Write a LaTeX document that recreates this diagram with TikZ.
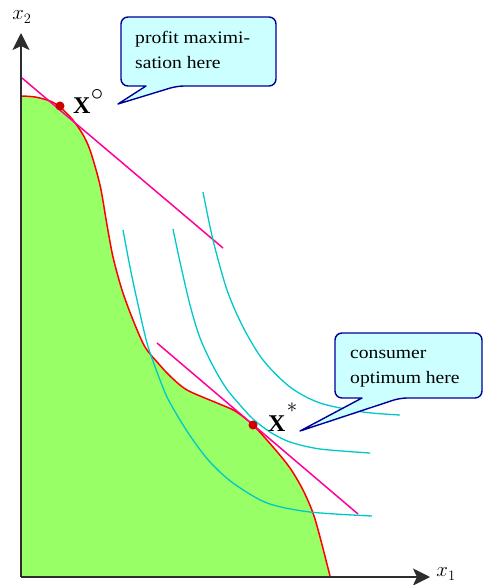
\documentclass[tikz,border=0pt]{standalone}
\usepackage{fontspec}
\setmainfont{Liberation Serif}
\newfontfamily\callfont[FakeStretch=1.12]{Liberation Serif}
\usetikzlibrary{arrows.meta}
\definecolor{feasgreen}{RGB}{153,255,102}
\definecolor{frontred}{RGB}{255,0,0}
\definecolor{tanpink}{RGB}{255,0,153}
\definecolor{indcyan}{RGB}{0,200,200}
\definecolor{callfill}{RGB}{204,255,255}
\definecolor{callline}{RGB}{0,0,153}
\definecolor{dotred}{RGB}{204,0,0}
\definecolor{axisgray}{RGB}{45,45,45}
\begin{document}
\begin{tikzpicture}[x=1pt,y=-1pt,
  frontier/.style={draw=frontred,line width=1.5pt},
  tangent/.style={draw=tanpink,line width=1.5pt},
  indiff/.style={draw=indcyan,line width=1.3pt},
  axisline/.style={draw=axisgray,line width=2pt,-{Stealth[length=17pt,width=17pt,inset=4pt]}},
  callout/.style={draw=callline,fill=callfill,line width=1.4pt,line join=round},
  calltext/.style={inner sep=0pt,align=left,font=\callfont\fontsize{17.5}{25}\selectfont},
  dotmark/.style={circle,fill=dotred,inner sep=0pt,minimum size=9pt},
  biglabel/.style={inner sep=0pt,font=\fontsize{24}{24}\selectfont\bfseries},
  axislabel/.style={inner sep=0pt,font=\fontsize{22}{22}\selectfont}
]
\useasboundingbox (0,0) rectangle (484,585);

% feasible set
\fill[feasgreen] (21,577) -- plot[smooth] coordinates {(21,96) (35,97) (50,101) (60,107) (72,119) (82,133) (90,150) (100,185) (107,225) (113,257) (122,290) (133,320) (145,347) (158,363) (170,376) (187,390) (217,403) (235,411) (253,425) (273,447) (290,468) (303,490) (313,513) (320,537) (330,576)} -- (330,577) -- cycle;

% frontier
\draw[frontier] plot[smooth] coordinates {(21,96) (35,97) (50,101) (60,107) (72,119) (82,133) (90,150) (100,185) (107,225) (113,257) (122,290) (133,320) (145,347) (158,363) (170,376) (187,390) (217,403) (235,411) (253,425) (273,447) (290,468) (303,490) (313,513) (320,537) (330,576)};

% tangent lines
\coordinate (t1a) at (22,78);
\coordinate (t1b) at (223,248);
\coordinate (t2a) at (157,343);
\coordinate (t2b) at (358,514);
\draw[tangent] (t1a) -- (t1b);
\draw[tangent] (t2a) -- (t2b);

% indifference curves
\draw[indiff] plot[smooth] coordinates {(123,230) (130,267) (137,300) (147,343) (157,372) (167,397) (180,420) (193,440) (210,462) (233,483) (267,503) (310,512) (372,516)};
\draw[indiff] plot[smooth] coordinates {(173,229) (180,262) (190,305) (200,338) (213,366) (226,388) (240,405) (253,419) (270,432) (290,442) (320,449) (370,453)};
\draw[indiff] plot[smooth] coordinates {(203,192) (213,240) (227,290) (243,327) (263,360) (290,387) (320,403) (363,412) (400,415)};

% axes
\coordinate (origin) at (21,577);
\coordinate (ytip) at (21,33);
\coordinate (xtip) at (430,577);
\draw[axisline] (origin) -- (ytip);
\draw[axisline] (origin) -- (xtip);
\node[axislabel] (ylab) at (22,17) {$x_2$};
\node[axislabel] (xlab) at (446,574) {$x_1$};

% points
\node[dotmark] (xo) at (60,106) {};
\node[dotmark] (xs) at (253,425) {};
\node[biglabel,anchor=base west] (xolab) at (73,114) {X};
\node[inner sep=0pt,font=\fontsize{24}{24}\selectfont] (xocirc) at (97,95) {$\circ$};
\node[biglabel,anchor=base west] (xslab) at (268,431) {X};
\node[inner sep=0pt,font=\fontsize{22}{22}\selectfont] (xsstar) at (292,408) {$\ast$};

% callouts
\draw[callout] (200,17) [rounded corners=7] -- (276,17) -- (276,86) -- (177,86) [sharp corners] -- (118,104) -- (146,86) [rounded corners=7] -- (121,86) -- (121,17) -- cycle;
\node[calltext,anchor=north west] (pm) at (135,31) {profit maximi-\\sation here};

\draw[callout] (420,333) [rounded corners=7] -- (482,333) -- (482,398) -- (400,398) [sharp corners] -- (300,431) -- (362,398) [rounded corners=7] -- (335,398) -- (335,333) -- cycle;
\node[calltext,anchor=north west] (co) at (350,350) {consumer\\optimum here};
\end{tikzpicture}
\end{document}
